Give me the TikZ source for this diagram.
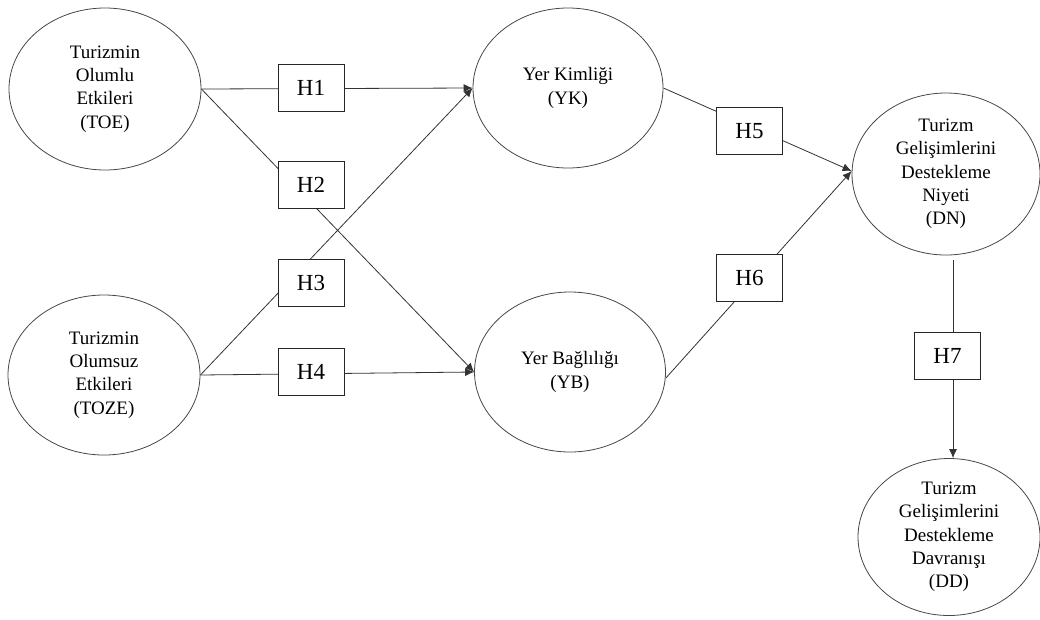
\documentclass[tikz,border=0pt]{standalone}
\usepackage{fontspec}
\setmainfont{Liberation Serif}
\newfontfamily\tnrfont{Liberation Serif}
\usetikzlibrary{arrows.meta,shapes.geometric}
\begin{document}
\begin{tikzpicture}[x=1pt,y=-1pt,
  ell/.style={draw=black!72, line width=0.8pt, ellipse, inner sep=0pt},
  txt/.style={align=center, inner sep=0pt, text=black, font=\tnrfont\fontsize{19}{23.3}\selectfont},
  hbox/.style={draw=black!85, line width=0.8pt, fill=white, minimum width=66pt, minimum height=47pt, inner sep=0pt, text=black, font=\tnrfont\fontsize{23}{27}\selectfont},
  conn/.style={draw=black!80, line width=0.8pt},
  arr/.style={conn, -{Latex[length=9pt,width=8pt]}}]
\useasboundingbox (0,0) rectangle (1040,619);

% constructs
\node[ell, minimum width=192pt, minimum height=162pt, label={[txt]center:Turizmin\\Olumlu\\Etkileri\\(TOE)}] (TOE) at (105,89) {};
\node[ell, minimum width=192pt, minimum height=160pt, label={[txt]center:Turizmin\\Olumsuz\\Etkileri\\(TOZE)}] (TOZE) at (104,375) {};
\node[ell, minimum width=190pt, minimum height=160pt, label={[txt]center:Yer Kimliği\\(YK)}] (YK) at (568,88) {};
\node[ell, minimum width=191pt, minimum height=160pt, label={[txt]center:Yer Bağlılığı\\(YB)}] (YB) at (570,372) {};
\node[ell, minimum width=188pt, minimum height=162pt, label={[txt]center:Turizm\\Gelişimlerini\\Destekleme\\Niyeti\\(DN)}] (DN) at (946,174) {};
\node[ell, minimum width=182pt, minimum height=157pt, label={[txt]center:Turizm\\Gelişimlerini\\Destekleme\\Davranışı\\(DD)}] (DD) at (949,537) {};

% connectors
\draw[arr] (TOE.east) -- (YK.west);
\draw[arr] (TOE.east) -- (YB.west);
\draw[arr] (TOZE.east) -- (YK.west);
\draw[arr] (TOZE.east) -- (YB.west);
\draw[arr] (YK.east) -- ([yshift=3pt]DN.west);
\draw[arr] ([yshift=-6pt]YB.east) -- ([yshift=3pt]DN.west);
\draw[arr] ([xshift=7pt,yshift=-5pt]DN.south) -- ([xshift=4pt]DD.north);

% hypothesis boxes
\node[hbox] (H1) at (311,88) {H1};
\node[hbox] (H2) at (311,185) {H2};
\node[hbox] (H3) at (311,283) {H3};
\node[hbox] (H4) at (311,372) {H4};
\node[hbox] (H5) at (749.5,131) {H5};
\node[hbox] (H6) at (749.5,278) {H6};
\node[hbox] (H7) at (947.5,356) {H7};
\end{tikzpicture}
\end{document}
